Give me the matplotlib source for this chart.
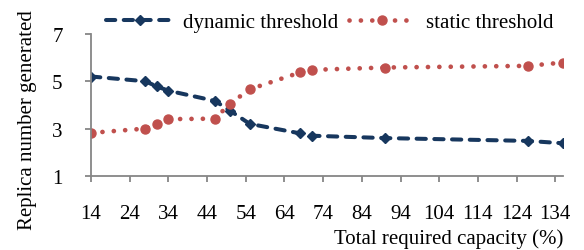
import matplotlib
matplotlib.use("Agg")
import matplotlib.pyplot as plt

# Values
capacity = [14, 28, 31, 34, 46, 50, 55, 68, 71, 90, 127, 136]
dynamic = [5.2, 5.0, 4.78, 4.6, 4.17, 3.75, 3.2, 2.8, 2.7, 2.6, 2.48, 2.38]
static = [2.82, 3.0, 3.18, 3.4, 3.42, 4.06, 4.66, 5.37, 5.48, 5.58, 5.65, 5.79]
x_ticks = list(range(14, 135, 10))
y_ticks = [1, 3, 5, 7]

navy = "#17375E"
red = "#C0504D"
grey = "#868686"

plt.rcParams["font.family"] = ["Liberation Serif", "DejaVu Serif"]
plt.rcParams["font.size"] = 15

fig = plt.figure(figsize=(5.84, 2.51), dpi=100)
ax = fig.add_axes([0.156, 0.295, 0.808, 0.566])

ax.plot(capacity, dynamic, color=navy, linewidth=2.9, linestyle=(0, (2.3, 2.1)),
        dash_capstyle="round", marker="D", markersize=5.5, label="dynamic threshold")
ax.plot(capacity, static, color=red, linewidth=3.4, linestyle=(0, (0.01, 2.4)),
        dash_capstyle="round", marker="o", markersize=6.5, label="static threshold")

ax.set_xlim(14, 136)
ax.set_ylim(1, 7)
ax.set_xticks(x_ticks)
ax.set_yticks(y_ticks)

for side in ["top", "right"]:
    ax.spines[side].set_visible(False)
for side in ["left", "bottom"]:
    ax.spines[side].set_color(grey)
    ax.spines[side].set_linewidth(1.3)
ax.tick_params(axis="both", direction="out", length=4.5, width=1.3, color=grey)
ax.tick_params(axis="x", pad=16)
ax.tick_params(axis="y", pad=16)

ax.set_ylabel("Replica number generated")
ax.yaxis.set_label_coords(-0.115, 0.4)
ax.set_xlabel("Total required capacity (%)", ha="right")
ax.xaxis.set_label_coords(1.0, -0.37)

fig.legend(loc="upper center", bbox_to_anchor=(0.565, 1.02), ncol=2, frameon=False,
           handlelength=3.2, handletextpad=0.5, columnspacing=0.5)

fig.savefig("out.png", dpi=100)
